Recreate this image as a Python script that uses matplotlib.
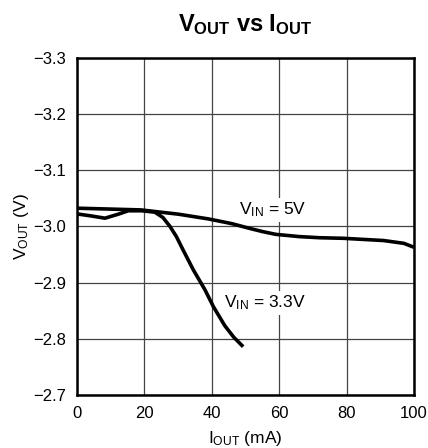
import matplotlib
matplotlib.use("Agg")
import matplotlib.pyplot as plt
from matplotlib import font_manager as fm

names = {f.name for f in fm.fontManager.ttflist}
FAM = "Liberation Sans Narrow" if "Liberation Sans Narrow" in names else "Liberation Sans"
plt.rcParams['font.family'] = [FAM, 'DejaVu Sans']
plt.rcParams['mathtext.fontset'] = 'custom'
plt.rcParams['mathtext.rm'] = FAM
plt.rcParams['mathtext.it'] = FAM
plt.rcParams['mathtext.bf'] = FAM + ':bold'
plt.rcParams['axes.unicode_minus'] = True

# Data
i_5v = [0, 10, 19, 30, 39, 46, 51, 55, 59, 66, 72, 79, 85, 91, 97, 100]
v_5v = [-3.0326, -3.031, -3.0295, -3.022, -3.0135, -3.005, -2.997, -2.991, -2.986, -2.982, -2.980, -2.979, -2.977, -2.975, -2.970, -2.963]
i_33 = [0, 4, 8.3, 12.3, 15.2, 19.2, 23.1, 25.5, 27.6, 29.5, 31.5, 34.5, 38, 40.5, 43.9, 46.5, 49.3]
v_33 = [-3.0224, -3.019, -3.0148, -3.022, -3.028, -3.028, -3.0255, -3.016, -3.000, -2.982, -2.958, -2.923, -2.887, -2.857, -2.823, -2.803, -2.786]
xticks = [0, 20, 40, 60, 80, 100]
yticks = [-3.3, -3.2, -3.1, -3.0, -2.9, -2.8, -2.7]

fig = plt.figure(figsize=(4.28, 4.48), dpi=100)
ax = fig.add_axes([77/428, 1-395/448, 337/428, 337/448])

ax.plot(i_5v, v_5v, color='black', lw=2.6, solid_capstyle='butt', solid_joinstyle='round', zorder=3)
ax.plot(i_33, v_33, color='black', lw=2.6, solid_capstyle='butt', solid_joinstyle='round', zorder=3)

ax.set_xlim(0, 100)
ax.set_ylim(-3.3, -2.7)
ax.invert_yaxis()
ax.set_xticks(xticks)
ax.set_yticks(yticks)
ax.set_xticklabels([str(t) for t in xticks])
ax.set_yticklabels(["\u2212%.1f" % abs(t) for t in yticks])
ax.tick_params(length=0, labelsize=12, pad=8)
ax.grid(True, color='#444444', lw=0.9, zorder=1)
for s in ax.spines.values():
    s.set_linewidth(1.8)
    s.set_zorder(4)

ax.text(58.2, -3.03, r"V$_{\mathrm{IN}}$ = 5V", ha='center', va='center', fontsize=12.5,
        bbox=dict(facecolor='white', edgecolor='none', pad=2), zorder=2)
ax.text(55.8, -2.864, r"V$_{\mathrm{IN}}$ = 3.3V", ha='center', va='center', fontsize=12.5,
        bbox=dict(facecolor='white', edgecolor='none', pad=2), zorder=2)

ax.set_xlabel(r"I$_{\mathrm{OUT}}$ (mA)", fontsize=12.5, labelpad=6)
ax.set_ylabel(r"V$_{\mathrm{OUT}}$ (V)", fontsize=12.5, labelpad=1)
fig.text(245.5/428, 1-25/448, r"$\mathbf{V_{OUT}}$ vs $\mathbf{I_{OUT}}$", ha='center', va='center',
         fontsize=17, fontweight='bold')

fig.savefig("out.png", dpi=100)
